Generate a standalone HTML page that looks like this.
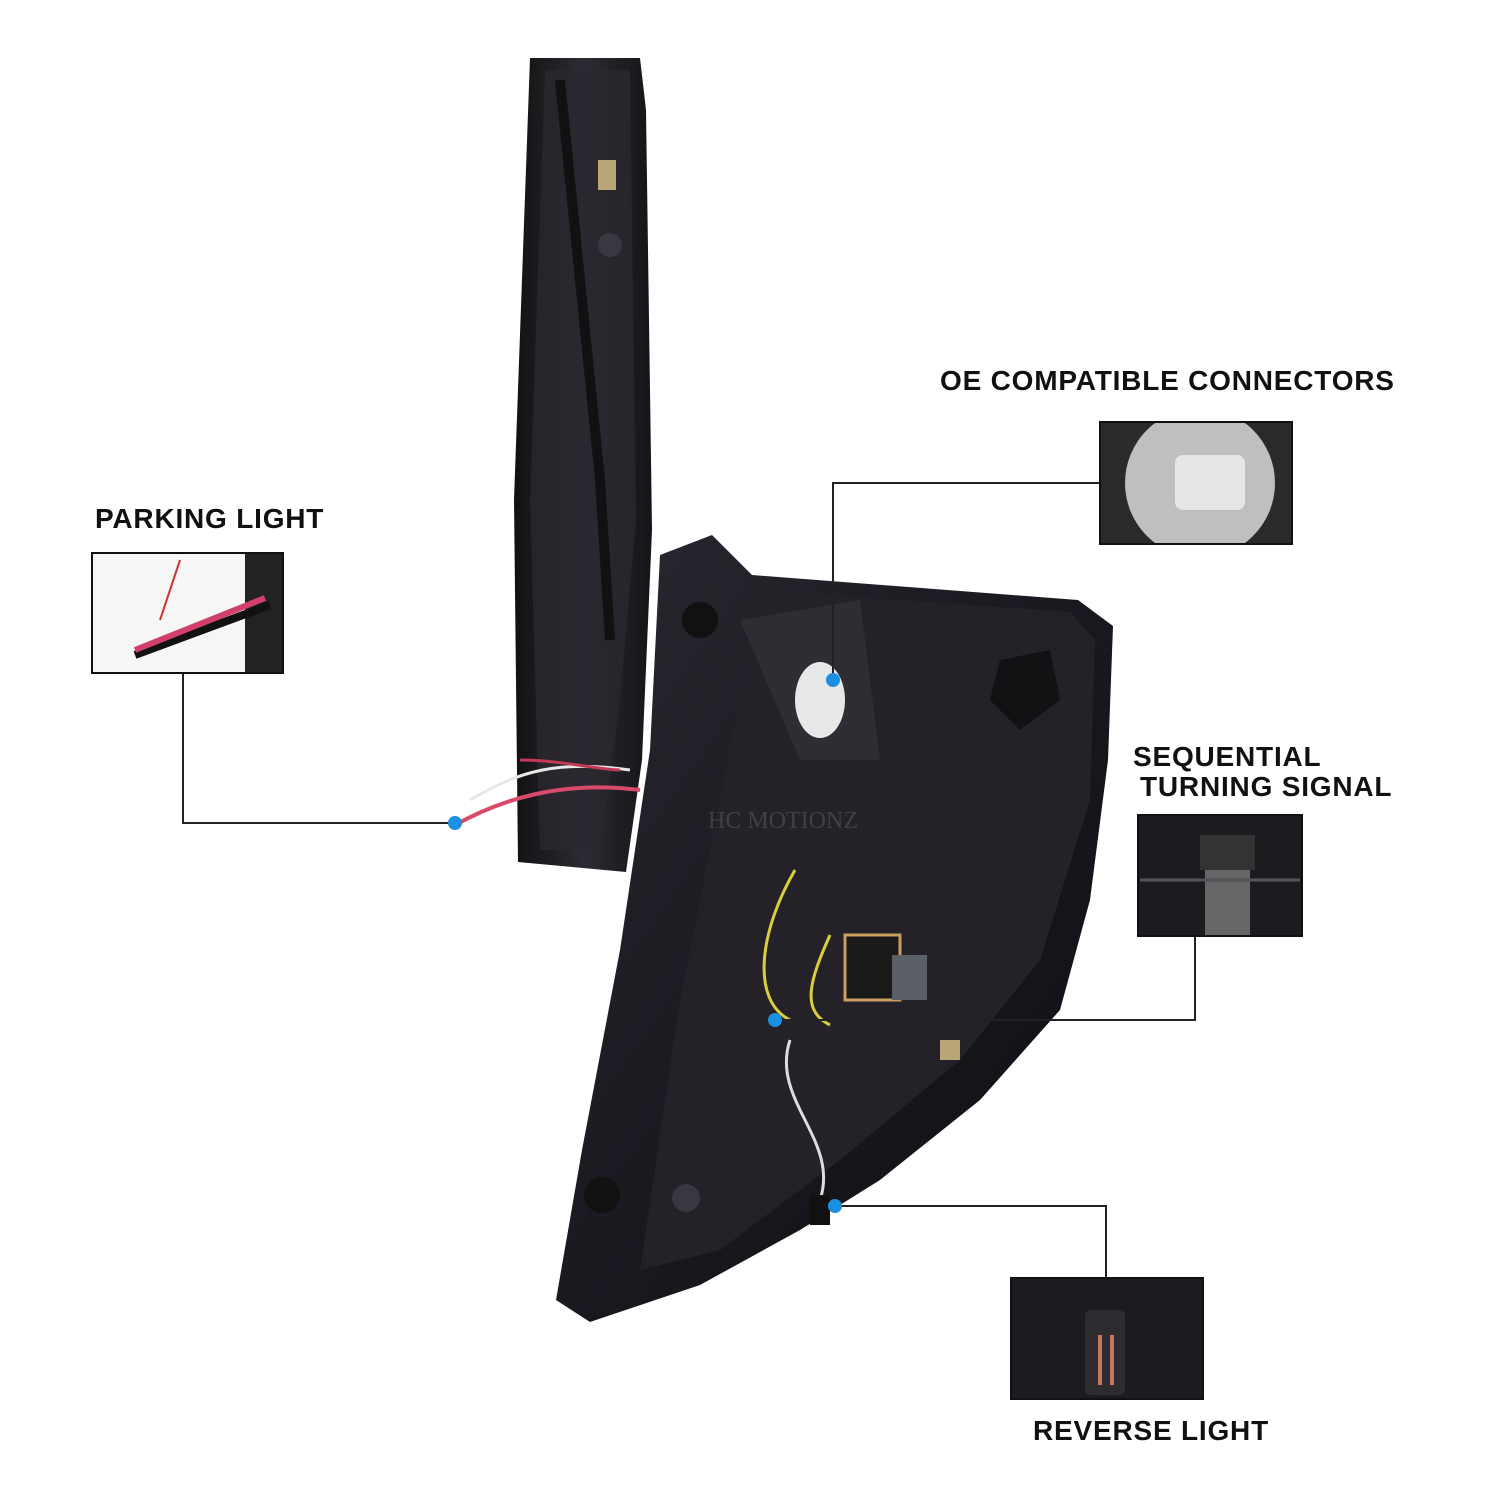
<!DOCTYPE html>
<html><head><meta charset="utf-8"><style>
html,body{margin:0;padding:0;background:#fff;}
.t{font-family:"Liberation Sans",sans-serif;font-weight:bold;fill:#111;font-size:28px;letter-spacing:0.8px;}
</style></head><body>
<svg width="1500" height="1505" viewBox="0 0 1500 1505" xmlns="http://www.w3.org/2000/svg">
<defs>
<linearGradient id="g1" x1="0" y1="0" x2="1" y2="1">
<stop offset="0" stop-color="#2a2730"/><stop offset="0.5" stop-color="#1b1920"/><stop offset="1" stop-color="#0e0d12"/>
</linearGradient>
<linearGradient id="g2" x1="0" y1="0" x2="1" y2="0">
<stop offset="0" stop-color="#111"/><stop offset="0.5" stop-color="#2d2a33"/><stop offset="1" stop-color="#151418"/>
</linearGradient>
<clipPath id="oe"><rect x="1100" y="422" width="192" height="122"/></clipPath>
</defs>
<path d="M530 58 L640 58 L646 110 L652 530 L642 760 L626 872 L518 862 L514 500 Z" fill="url(#g2)"/>
<path d="M545 70 L630 70 L636 520 L620 700 L600 850 L540 850 L530 500 Z" fill="#2b2830" opacity="0.8"/>
<path d="M560 80 L600 480 L610 640" stroke="#111" stroke-width="10" fill="none"/>
<circle cx="610" cy="245" r="12" fill="#3a3740"/>
<rect x="598" y="160" width="18" height="30" fill="#b9a77a"/>
<path d="M660 555 L712 535 L752 575 L1078 600 L1113 626 L1108 760 L1090 900 L1060 1010 L980 1100 L880 1180 L800 1230 L700 1285 L590 1322 L556 1300 L582 1150 L620 950 L650 750 Z" fill="url(#g1)"/>
<path d="M760 590 L1070 612 L1095 640 L1090 800 L1040 960 L960 1060 L840 1160 L720 1250 L640 1270 L680 1000 L720 800 Z" fill="#242128"/>
<path d="M740 620 L860 600 L880 760 L800 760 Z" fill="#2f2c34"/>
<path d="M1000 660 L1050 650 L1060 700 L1020 730 L990 700 Z" fill="#121114"/>
<ellipse cx="820" cy="700" rx="25" ry="38" fill="#e8e8e8"/>
<circle cx="700" cy="620" r="18" fill="#111"/>
<circle cx="602" cy="1195" r="18" fill="#111"/>
<circle cx="686" cy="1198" r="14" fill="#3a3740"/>
<rect x="845" y="935" width="55" height="65" fill="#1a1a1a" stroke="#c9a060" stroke-width="3"/>
<rect x="892" y="955" width="35" height="45" fill="#5a6066"/>
<path d="M795 870 C760 930 750 1000 790 1020" stroke="#d8cf3a" stroke-width="3" fill="none"/>
<path d="M830 935 C810 980 800 1010 830 1025" stroke="#d8cf3a" stroke-width="3" fill="none"/>
<path d="M790 1040 C770 1100 840 1140 820 1200" stroke="#ddd" stroke-width="3" fill="none"/>
<rect x="810" y="1195" width="20" height="30" fill="#111"/>
<rect x="940" y="1040" width="20" height="20" fill="#b9a77a"/>
<path d="M455 825 C500 800 560 780 640 790" stroke="#d94a6a" stroke-width="4" fill="none"/>
<path d="M470 800 C520 770 560 760 630 770" stroke="#e8e8e8" stroke-width="3" fill="none"/>
<path d="M520 760 C560 760 600 770 620 770" stroke="#c23a55" stroke-width="3" fill="none"/>
<text x="708" y="828" font-family="Liberation Serif,serif" font-size="24" fill="#555" opacity="0.6">HC MOTIONZ</text>
<g stroke="#222" stroke-width="2" fill="none">
<path d="M183 673 V823 H455"/>
<path d="M1100 483 H833 V680"/>
<path d="M1195 936 V1020 H775"/>
<path d="M1106 1278 V1206 H835"/>
</g>
<g fill="#1b8fe0">
<circle cx="455" cy="823" r="7"/><circle cx="833" cy="680" r="7"/>
<circle cx="775" cy="1020" r="7"/><circle cx="835" cy="1206" r="7"/>
</g>
<rect x="92" y="553" width="191" height="120" fill="#f6f6f6" stroke="#111" stroke-width="2"/>
<rect x="245" y="554" width="37" height="118" fill="#222"/>
<path d="M135 655 L270 605" stroke="#111" stroke-width="8"/>
<path d="M135 650 L265 598" stroke="#d0406a" stroke-width="6"/>
<path d="M180 560 L160 620" stroke="#c33" stroke-width="2"/>
<rect x="1100" y="422" width="192" height="122" fill="#2a2a2c"/>
<g clip-path="url(#oe)">
<circle cx="1200" cy="483" r="75" fill="#bfbfbf"/>
<rect x="1175" y="455" width="70" height="55" rx="8" fill="#e6e6e6"/>
</g>
<rect x="1100" y="422" width="192" height="122" fill="none" stroke="#111" stroke-width="2"/>
<rect x="1138" y="815" width="164" height="121" fill="#1c1c20" stroke="#111" stroke-width="2"/>
<rect x="1205" y="860" width="45" height="75" fill="#666"/>
<rect x="1200" y="835" width="55" height="35" fill="#333"/>
<path d="M1140 880 H1300" stroke="#55525a" stroke-width="3"/>
<rect x="1011" y="1278" width="192" height="121" fill="#1c1b1f" stroke="#111" stroke-width="2"/>
<rect x="1085" y="1310" width="40" height="85" rx="6" fill="#2e2c30"/>
<rect x="1098" y="1335" width="4" height="50" fill="#c8775a"/>
<rect x="1110" y="1335" width="4" height="50" fill="#c8775a"/>
<text class="t" x="95" y="528">PARKING LIGHT</text>
<text class="t" x="940" y="390">OE COMPATIBLE CONNECTORS</text>
<text class="t" x="1133" y="766">SEQUENTIAL</text>
<text class="t" x="1140" y="796">TURNING SIGNAL</text>
<text class="t" x="1033" y="1440">REVERSE LIGHT</text>
</svg>
</body></html>
